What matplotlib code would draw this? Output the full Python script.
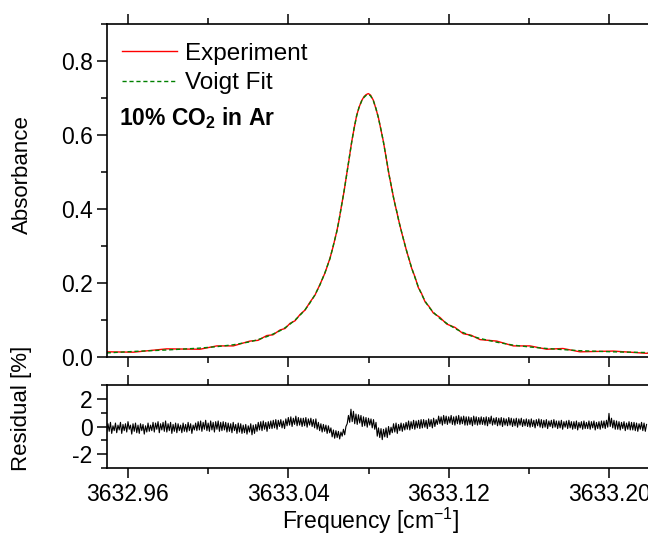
"""Absorption line of 10% CO2 in Ar with Voigt fit and residual."""

import matplotlib
matplotlib.use("Agg")
import matplotlib.pyplot as plt
import numpy as np
from matplotlib.ticker import MultipleLocator

plt.rcParams["font.family"] = ["Liberation Sans", "DejaVu Sans"]
plt.rcParams["mathtext.fontset"] = "custom"
plt.rcParams["mathtext.rm"] = "Liberation Sans"
plt.rcParams["mathtext.bf"] = "Liberation Sans:bold"
plt.rcParams["axes.unicode_minus"] = False

# --- data ----------------------------------------------------------------
fit_freq = [3632.9495, 3632.9628, 3632.9794, 3632.9960, 3633.0044, 3633.0126,
            3633.0209, 3633.0249, 3633.0293, 3633.0324, 3633.0359, 3633.0384,
            3633.0409, 3633.0434, 3633.0459, 3633.0484, 3633.0508, 3633.0533,
            3633.0558, 3633.0583, 3633.0608, 3633.0623, 3633.0642, 3633.0653,
            3633.0666, 3633.0678, 3633.0691, 3633.0703, 3633.0716, 3633.0728,
            3633.0741, 3633.0753, 3633.0766, 3633.0778, 3633.0788, 3633.0799,
            3633.0810, 3633.0824, 3633.0837, 3633.0849, 3633.0862, 3633.0874,
            3633.0891, 3633.0902, 3633.0916, 3633.0927, 3633.0941, 3633.0952,
            3633.0965, 3633.0977, 3633.0990, 3633.1002, 3633.1015, 3633.1032,
            3633.1048, 3633.1065, 3633.1082, 3633.1101, 3633.1123, 3633.1156,
            3633.1190, 3633.1231, 3633.1272, 3633.1311, 3633.1356, 3633.1439,
            3633.1522, 3633.1605, 3633.1688, 3633.1769, 3633.1854, 3633.2020,
            3633.2186, 3633.2253]
fit_abs = [0.011, 0.015, 0.019, 0.024, 0.028, 0.033,
           0.041, 0.047, 0.055, 0.062, 0.071, 0.079,
           0.089, 0.100, 0.113, 0.128, 0.146, 0.168,
           0.195, 0.228, 0.266, 0.298, 0.339, 0.370,
           0.410, 0.448, 0.492, 0.535, 0.580, 0.618,
           0.652, 0.675, 0.692, 0.702, 0.707, 0.709,
           0.706, 0.693, 0.672, 0.647, 0.615, 0.582,
           0.530, 0.493, 0.456, 0.424, 0.393, 0.365,
           0.338, 0.312, 0.287, 0.264, 0.241, 0.214,
           0.190, 0.169, 0.151, 0.135, 0.121, 0.104,
           0.091, 0.077, 0.066, 0.057, 0.050, 0.040,
           0.032, 0.027, 0.023, 0.020, 0.017, 0.014,
           0.012, 0.011]
# experiment = fit + small measurement noise
exp_noise = [0.003, -0.002, 0.003, -0.003, 0.002, -0.003,
             0.002, -0.002, 0.003, -0.002, 0.002, -0.002,
             0.002, -0.002, 0.002, -0.001, 0.002, -0.001,
             0.001, -0.001, 0.001, -0.001, 0.001, -0.001,
             0.001, -0.001, 0.001, -0.001, 0.001, -0.001,
             0.001, 0.000, 0.001, 0.002, 0.002, 0.003,
             0.002, 0.001, -0.001, 0.001, -0.001, 0.001,
             -0.001, 0.001, -0.001, 0.001, -0.001, 0.001,
             -0.001, 0.001, -0.001, 0.001, -0.001, 0.002,
             -0.002, 0.002, -0.002, 0.002, -0.002, 0.003,
             -0.002, 0.003, -0.003, 0.002, -0.003, 0.003,
             -0.002, 0.003, -0.002, 0.003, -0.003, 0.002,
             -0.002, 0.002]

res_start, res_stop = 3632.9495, 3633.2186
residual = [
    -0.4, 0.2, -0.35, 0.3, -0.5, 0.05, -0.3, 0.25, -0.45, 0.1, -0.25, 0.3,
    -0.5, 0.15, -0.3, 0.2, -0.4, 0.35, -0.2, 0.1, -0.55, 0.2, -0.35, 0.25,
    -0.45, 0.1, -0.5, 0.2, -0.3, 0.15, -0.55, 0.05, -0.4, 0.25, -0.35, 0.1,
    -0.3, 0.3, -0.4, 0.25, -0.2, 0.35, -0.45, 0.2, -0.25, 0.3, -0.35, 0.4,
    -0.4, 0.2, -0.3, 0.3, -0.5, 0.15, -0.35, 0.25, -0.45, 0.2, -0.3, 0.1,
    -0.45, 0.25, -0.35, 0.15, -0.4, 0.3, -0.3, 0.2, -0.5, 0.1, -0.25, 0.25,
    -0.3, 0.35, -0.25, 0.4, -0.35, 0.3, -0.2, 0.45, -0.3, 0.25, -0.35, 0.4,
    -0.25, 0.3, -0.4, 0.35, -0.2, 0.4, -0.35, 0.3, -0.3, 0.35, -0.25, 0.3,
    -0.4, 0.25, -0.35, 0.2, -0.45, 0.3, -0.3, 0.15, -0.5, 0.25, -0.4, 0.2,
    -0.5, 0.1, -0.45, 0.15, -0.55, 0.05, -0.4, 0.2, -0.6, 0.1, -0.5, 0.15,
    -0.35, 0.3, -0.25, 0.35, -0.3, 0.4, -0.2, 0.3, -0.35, 0.35, -0.15, 0.4,
    -0.15, 0.45, -0.1, 0.5, -0.2, 0.45, 0.0, 0.5, -0.1, 0.4, -0.15, 0.55,
    0.05, 0.65, 0.1, 0.7, 0.0, 0.6, 0.15, 0.75, 0.05, 0.65, 0.1, 0.6,
    0.0, 0.6, 0.05, 0.65, -0.05, 0.55, 0.1, 0.6, 0.0, 0.5, -0.1, 0.55,
    -0.2, 0.3, -0.3, 0.2, -0.4, 0.15, -0.35, 0.1, -0.5, 0.05, -0.45, -0.1,
    -0.75, -0.25, -0.85, -0.3, -0.8, -0.35, -0.9, -0.4, -0.7, -0.2, -0.6, 0.0,
    0.2, 0.8, 0.3, 1.25, 0.35, 1.1, 0.2, 0.9, 0.15, 0.85, 0.25, 0.8,
    0.0, 0.7, 0.05, 0.65, -0.05, 0.6, 0.1, 0.55, -0.1, 0.5, -0.2, 0.3,
    -0.7, -0.1, -0.8, -0.15, -0.95, -0.2, -0.75, -0.1, -0.8, 0.0, -0.6, -0.05,
    -0.45, 0.2, -0.4, 0.25, -0.5, 0.15, -0.3, 0.25, -0.35, 0.2, -0.25, 0.3,
    -0.2, 0.4, -0.25, 0.35, -0.15, 0.45, -0.2, 0.4, -0.1, 0.45, -0.15, 0.5,
    -0.1, 0.5, -0.05, 0.45, -0.15, 0.55, 0.0, 0.5, -0.1, 0.6, 0.0, 0.5,
    0.15, 0.75, 0.2, 0.7, 0.1, 0.8, 0.2, 0.75, 0.15, 0.7, 0.25, 0.8,
    0.15, 0.7, 0.1, 0.75, 0.2, 0.8, 0.15, 0.7, 0.2, 0.75, 0.1, 0.7,
    0.1, 0.7, 0.15, 0.65, 0.05, 0.75, 0.15, 0.7, 0.1, 0.65, 0.15, 0.7,
    0.15, 0.65, 0.1, 0.7, 0.05, 0.65, 0.2, 0.75, 0.1, 0.6, 0.15, 0.65,
    0.05, 0.6, 0.1, 0.65, 0.0, 0.6, 0.1, 0.55, 0.05, 0.65, 0.1, 0.6,
    0.0, 0.55, 0.05, 0.6, -0.05, 0.55, 0.1, 0.6, 0.0, 0.5, 0.05, 0.55,
    0.0, 0.5, -0.05, 0.55, 0.0, 0.45, -0.1, 0.5, 0.05, 0.55, -0.05, 0.5,
    -0.1, 0.45, -0.05, 0.5, -0.15, 0.4, 0.0, 0.45, -0.1, 0.5, -0.05, 0.4,
    -0.15, 0.4, -0.1, 0.45, -0.2, 0.35, -0.05, 0.4, -0.15, 0.45, -0.1, 0.35,
    -0.2, 0.35, -0.15, 0.4, -0.25, 0.3, -0.1, 0.35, -0.2, 0.4, -0.15, 0.3,
    -0.15, 0.4, -0.2, 0.35, -0.1, 0.4, -0.25, 0.3, -0.15, 0.35, -0.2, 0.4,
    -0.1, 0.4, -0.15, 0.45, -0.05, 0.95, 0.0, 0.6, -0.1, 0.45, -0.2, 0.4,
    -0.2, 0.35, -0.25, 0.3, -0.15, 0.35, -0.3, 0.25, -0.2, 0.35, -0.25, 0.3,
    -0.25, 0.3, -0.3, 0.25, -0.35, 0.2, -0.2, 0.3, -0.3, 0.25, -0.35, 0.15,
]
res_freq = np.linspace(res_start, res_stop, len(residual))

fit_abs = np.array(fit_abs)
exp_abs = fit_abs + np.array(exp_noise)

# --- figure ---------------------------------------------------------------
W, H = 648, 535
fig = plt.figure(figsize=(W / 100, H / 100), dpi=100)

left = 107.3 / W
width = (660 - 107.3) / W
ax1 = fig.add_axes([left, (H - 357) / H, width, (357 - 24) / H])
ax2 = fig.add_axes([left, (H - 468) / H, width, (468 - 385) / H])

XMIN, XMAX = 3632.9498, 3633.2253

ax1.plot(fit_freq, exp_abs, color="#ff0000", lw=1.0, label="Experiment")
ax1.plot(fit_freq, fit_abs, color="#008000", lw=1.0, ls=(0, (3, 2)),
         label="Voigt Fit")
ax1.set_xlim(XMIN, XMAX)
ax1.set_ylim(0, 0.9)
ax1.yaxis.set_major_locator(MultipleLocator(0.2))
ax1.yaxis.set_minor_locator(MultipleLocator(0.1))
ax1.yaxis.set_major_formatter(plt.FormatStrFormatter("%.1f"))

ax2.plot(res_freq, residual, color="black", lw=0.8)
ax2.set_xlim(XMIN, XMAX)
ax2.set_ylim(-3, 3)
ax2.yaxis.set_major_locator(MultipleLocator(2))
ax2.yaxis.set_minor_locator(MultipleLocator(1))

for ax in (ax1, ax2):
    ax.xaxis.set_major_locator(MultipleLocator(0.08))
    ax.xaxis.set_minor_locator(MultipleLocator(0.04))
    ax.tick_params(which="both", direction="out", top=True, right=False,
                   width=1.1, labelsize=16.5)
    ax.tick_params(which="major", length=7)
    ax.tick_params(which="minor", length=4)
    for s in ax.spines.values():
        s.set_linewidth(1.2)
    ax.spines["right"].set_visible(False)

ax1.tick_params(labelbottom=False)
ax2.xaxis.set_major_formatter(plt.FormatStrFormatter("%.2f"))

fig.text(371 / W, 1 - 521 / H, "Frequency [cm$^{-1}$]", fontsize=16.5,
         ha="center", va="center")
fig.text(22 / W, 1 - 175 / H, "Absorbance", rotation=90, fontsize=16,
         ha="center", va="center")
fig.text(22 / W, 1 - 408 / H, "Residual [%]", rotation=90, fontsize=16,
         ha="center", va="center")

ax1.legend(loc="upper left", frameon=False, fontsize=17.5, handlelength=2.26,
           handletextpad=0.33, labelspacing=0.32, borderaxespad=0.2,
           bbox_to_anchor=(0.0, 0.988))
fig.text(119 / W, 1 - 118 / H, r"10% CO$_\mathbf{2}$ in Ar", fontsize=16.5,
         fontweight="bold", ha="left", va="center")

fig.savefig("out.png", dpi=100)
